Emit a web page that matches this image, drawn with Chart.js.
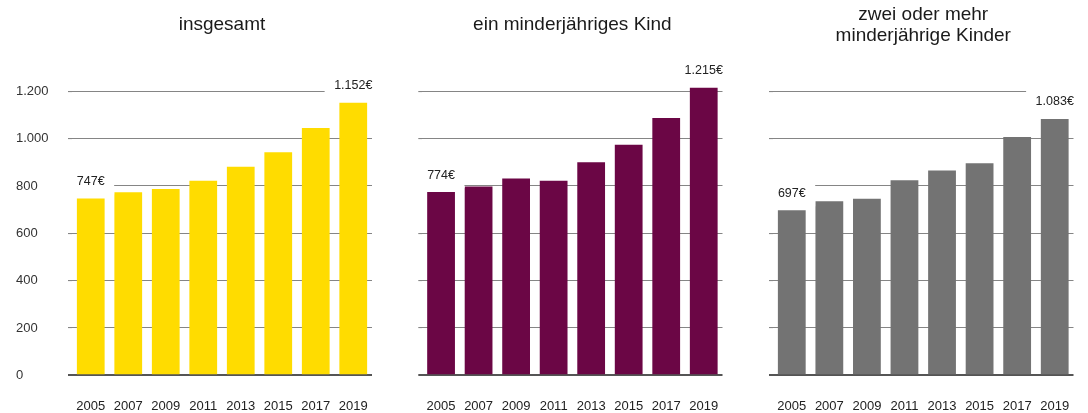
<!DOCTYPE html>
<html lang="de">
<head>
<meta charset="utf-8">
<script src="https://cdn.jsdelivr.net/npm/chart.js@4.4.1/dist/chart.umd.min.js"></script>
<style>
  html, body { margin: 0; padding: 0; background: #ffffff; }
  #wrap { position: relative; width: 1088px; height: 413px; overflow: hidden; }
  canvas { position: absolute; top: 0; }
</style>
</head>
<body>
<div id="wrap">
  <canvas id="c1" width="395" height="413" style="left:0px"></canvas>
  <canvas id="c2" width="350" height="413" style="left:395px"></canvas>
  <canvas id="c3" width="343" height="413" style="left:745px"></canvas>
</div>
<script>
// Survey years on the x axis
const years = ['2005', '2007', '2009', '2011', '2013', '2015', '2017', '2019'];

// Monthly amounts in euro per household type
const insgesamt   = [747, 773, 787, 822, 881, 942, 1045, 1152];
const einKind     = [774, 798, 831, 822, 900, 974, 1087, 1215];
const zweiKinder  = [697, 735, 746, 824, 865, 896, 1007, 1083];

// Panel headings (one entry per line)
const title1 = ['insgesamt'];
const title2 = ['ein minderjähriges Kind'];
const title3 = ['zwei oder mehr', 'minderjährige Kinder'];

// Value axis
const yMax = 1300;
const yStep = 200;
const yTopTick = 1200;

const FONT = '"Liberation Sans", Arial, sans-serif';

function fmt(v) {
  return String(v).replace(/\B(?=(\d{3})+(?!\d))/g, '.');
}

// Heading above each plot, centred over the plot area
const headingPlugin = {
  id: 'heading',
  afterDraw(chart) {
    const o = chart.options.plugins.heading;
    if (!o) return;
    const { ctx, chartArea } = chart;
    const cx = (chartArea.left + chartArea.right) / 2;
    ctx.save();
    ctx.font = '19px ' + FONT;
    ctx.fillStyle = '#1a1a1a';
    ctx.textAlign = 'center';
    ctx.textBaseline = 'middle';
    o.lines.forEach((line, i) => ctx.fillText(line, cx, o.y[i]));
    ctx.restore();
  }
};

// Value labels on the first and last bar, on a white box that masks the grid
const endLabelPlugin = {
  id: 'endLabels',
  afterDatasetsDraw(chart) {
    const { ctx } = chart;
    const meta = chart.getDatasetMeta(0);
    const data = chart.data.datasets[0].data;
    ctx.save();
    ctx.font = '12.5px ' + FONT;
    ctx.textAlign = 'center';
    ctx.textBaseline = 'middle';
    [0, data.length - 1].forEach(i => {
      const bar = meta.data[i];
      const text = fmt(data[i]) + '€';
      const w = ctx.measureText(text).width;
      const x = bar.x;
      const y = bar.y - 17;
      ctx.fillStyle = '#ffffff';
      ctx.fillRect(x - w / 2 - 9.5, y - 13, w + 19, 26);
      ctx.fillStyle = '#222222';
      ctx.fillText(text, x, y);
    });
    ctx.restore();
  }
};

function makePanel(id, values, color, heading, headingY, pad, yAxisWidth, showYLabels) {
  return new Chart(document.getElementById(id), {
    type: 'bar',
    data: {
      labels: years,
      datasets: [{
        data: values,
        backgroundColor: color,
        borderWidth: 0,
        categoryPercentage: 1,
        barPercentage: 0.74
      }]
    },
    options: {
      responsive: false,
      animation: false,
      events: [],
      layout: { padding: pad },
      plugins: {
        legend: { display: false },
        tooltip: { enabled: false },
        heading: { lines: heading, y: headingY }
      },
      scales: {
        x: {
          grid: { display: false },
          border: { display: false },
          ticks: {
            color: '#222222',
            font: { family: FONT, size: 13 },
            padding: 15,
            maxRotation: 0,
            autoSkip: false
          },
          afterFit(scale) { scale.height = 37.7; }
        },
        y: {
          min: 0,
          max: yMax,
          border: { display: false },
          grid: {
            drawTicks: true,
            tickLength: 4,
            color: ctx => (ctx.tick && ctx.tick.value === 0 ? '#555555' : '#858585'),
            lineWidth: ctx => (ctx.tick && ctx.tick.value === 0 ? 2 : 1.1)
          },
          ticks: {
            display: showYLabels,
            stepSize: yStep,
            crossAlign: 'far',
            color: '#333333',
            font: { family: FONT, size: 13 },
            callback: v => fmt(v)
          },
          afterBuildTicks(scale) {
            scale.ticks = scale.ticks.filter(t => t.value <= yTopTick);
          },
          afterFit(scale) { scale.width = yAxisWidth; }
        }
      }
    },
    plugins: [headingPlugin, endLabelPlugin]
  });
}

makePanel('c1', insgesamt, '#ffdc00', title1, [25],
  { left: 16, right: 23, top: 67.6, bottom: 0 }, 56, true);
makePanel('c2', einKind, '#6b0645', title2, [25],
  { left: 0, right: 22.5, top: 67.6, bottom: 0 }, 27.3, false);
makePanel('c3', zweiKinder, '#737373', title3, [15, 36],
  { left: 0, right: 14.5, top: 67.6, bottom: 0 }, 28, false);
</script>
</body>
</html>
